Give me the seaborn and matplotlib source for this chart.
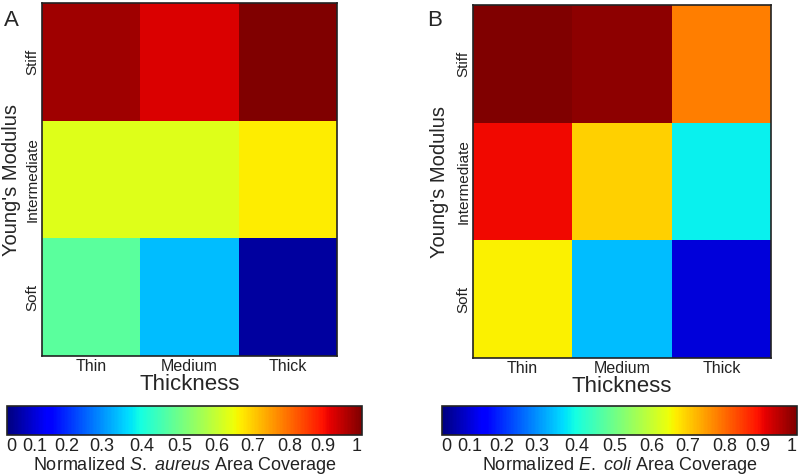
import matplotlib.pyplot as plt
import numpy as np
import pandas as pd
import seaborn as sns

# categories
moduli = ["Stiff", "Intermediate", "Soft"]
thickness = ["Thin", "Medium", "Thick"]

# normalized area coverage (rows: Stiff, Intermediate, Soft)
s_aureus = [[0.97, 0.92, 1.00],
            [0.62, 0.62, 0.66],
            [0.46, 0.31, 0.03]]
e_coli = [[1.00, 0.985, 0.775],
          [0.90, 0.69, 0.36],
          [0.655, 0.31, 0.08]]

# colorbar tick labels and where they sit along the bar (as drawn in the original)
cbar_labels = ["0", "0.1", "0.2", "0.3", "0.4", "0.5", "0.6", "0.7", "0.8", "0.9", "1"]
cbar_pos = [0.013, 0.079, 0.169, 0.268, 0.38, 0.487, 0.592, 0.693, 0.797, 0.89, 0.986]

sns.set_style("white")
plt.rcParams['font.family'] = ['Liberation Sans', 'DejaVu Sans']
plt.rcParams['mathtext.fontset'] = 'custom'
plt.rcParams['mathtext.rm'] = 'Liberation Sans'
plt.rcParams['mathtext.it'] = 'Liberation Sans:italic'

W, H = 800, 475
fig = plt.figure(figsize=(8, 4.75), dpi=100)


def box(x0, y0, x1, y1):
    # pixel box (top-left origin) -> figure fraction rect
    return [x0 / W, 1 - y1 / H, (x1 - x0) / W, (y1 - y0) / H]


panels = [
    ("A", s_aureus, r"Normalized $\it{S.\ aureus}$ Area Coverage",
     box(42, 3, 337, 356), box(7, 406, 362, 435), 11, 21),
    ("B", e_coli, r"Normalized $\it{E.\ coli}$ Area Coverage",
     box(473, 5, 771, 358), box(442, 406, 797, 435), 435, 449),
]

for letter, vals, clabel, hm_rect, cb_rect, letter_x, ylab_px in panels:
    ax = fig.add_axes(hm_rect)
    cax = fig.add_axes(cb_rect)
    df = pd.DataFrame(vals, index=moduli, columns=thickness)
    sns.heatmap(df, ax=ax, cmap="jet", vmin=0, vmax=1, cbar_ax=cax,
                cbar_kws={"orientation": "horizontal"})
    for s in ax.spines.values():
        s.set_visible(True)
        s.set_color("#222222")
        s.set_linewidth(1.2)
    ax.tick_params(axis="x", length=0, pad=2)
    ax.tick_params(axis="y", length=0, pad=2)
    ax.set_xticklabels(thickness, fontsize=11.5, color="#222222")
    ax.set_yticklabels(moduli, fontsize=11, color="#222222", rotation=90, va="center")
    ax.set_xlabel("Thickness", fontsize=16, labelpad=0)
    ax.set_ylabel("Young's Modulus", fontsize=14.5)
    # right edge of the rotated label, in figure pixels -> axes fraction
    ax.yaxis.set_label_coords((ylab_px / W - hm_rect[0]) / hm_rect[2], 0.5)

    cb = ax.collections[0].colorbar
    cb.set_ticks(cbar_pos)
    cb.set_ticklabels(cbar_labels)
    cax.tick_params(length=0, labelsize=13, pad=2, colors="#222222")
    cb.outline.set_edgecolor("#222222")
    cb.outline.set_linewidth(1.2)
    cx = (cb_rect[0] + cb_rect[2] / 2)
    fig.text(cx, 1 - 465 / H, clabel, fontsize=13, ha="center", va="center",
             color="#222222")

    fig.text(letter_x / W, 1 - 20 / H, letter, fontsize=16, ha="center", va="center")

fig.savefig("out.png", dpi=100)
